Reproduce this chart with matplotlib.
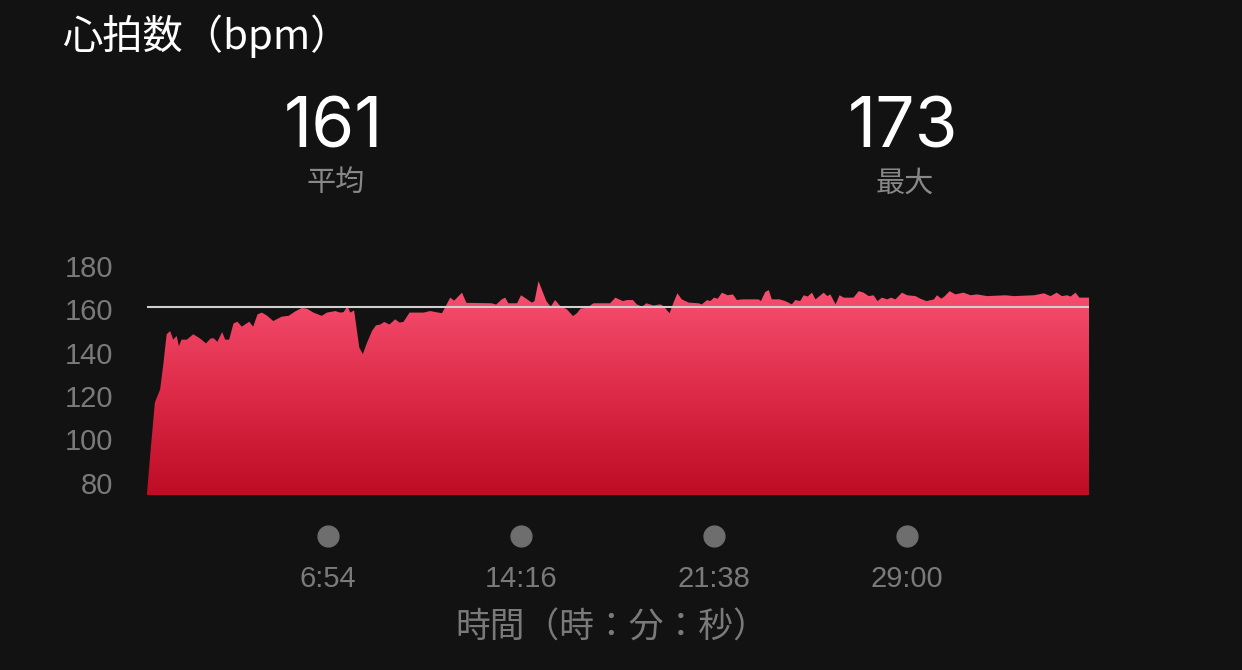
import numpy as np
import matplotlib.pyplot as plt
from matplotlib.patches import PathPatch
from matplotlib.colors import LinearSegmentedColormap

# heart rate trace (seconds, bpm)
time_s = [0, 7, 18, 30, 37, 45, 53, 60, 68, 73, 79, 91, 106, 121, 135, 146, 153,
          161, 172, 179, 188, 198, 207, 217, 234, 243, 253, 263, 274, 289, 308,
          324, 339, 354, 366, 381, 400, 412, 431, 442, 450, 459, 465, 474, 480,
          486, 494, 503, 515, 524, 534, 543, 555, 568, 578, 587, 601, 618, 633,
          648, 667, 675, 682, 694, 703, 721, 731, 789, 799, 812, 820, 827, 847,
          856, 868, 881, 887, 896, 914, 924, 934, 946, 961, 975, 984, 992, 1007,
          1022, 1060, 1072, 1089, 1099, 1112, 1121, 1133, 1143, 1159, 1175, 1182,
          1196, 1205, 1214, 1224, 1240, 1262, 1270, 1282, 1289, 1298, 1306, 1316,
          1329, 1341, 1350, 1362, 1400, 1405, 1415, 1423, 1430, 1448, 1461, 1476,
          1484, 1495, 1503, 1512, 1522, 1530, 1549, 1557, 1564, 1576, 1585, 1595,
          1617, 1629, 1640, 1652, 1663, 1672, 1682, 1694, 1703, 1713, 1728, 1740,
          1759, 1770, 1784, 1801, 1808, 1818, 1825, 1837, 1850, 1869, 1885, 1900,
          1923, 1965, 1984, 2030, 2053, 2068, 2082, 2094, 2106, 2114, 2125, 2134,
          2156]
hr_bpm = [75, 92, 117, 123, 134, 148.5, 150, 146, 147.7, 143, 146, 146, 148.5,
          146.6, 144.3, 146.6, 146.6, 145, 149.5, 146, 146, 153.5, 154.3, 152,
          154.3, 152, 157.7, 158.5, 157.2, 154.6, 156.6, 157, 159, 160.6, 160.3,
          158.5, 157, 158.5, 159.2, 158.5, 158.7, 161.5, 158.5, 159.5, 150.8,
          142.3, 139.3, 144.3, 150, 152.6, 153, 154.2, 153, 155.4, 153.9, 154.2,
          158.5, 158.5, 158.5, 159.2, 158.5, 158.2, 160.8, 165.4, 164, 167.7, 163,
          162.8, 162.2, 164.6, 165.4, 162.8, 162.8, 166.5, 164.9, 163.1, 163.8,
          173, 163.8, 161.2, 164.3, 161.5, 160, 156.9, 158.2, 160.3, 160.8, 162.8,
          162.8, 165.4, 163.8, 164.3, 164.3, 162.3, 161.2, 162.8, 161.8, 162.3,
          161.5, 158.2, 163.1, 167.4, 164.6, 163.1, 162.8, 162.3, 164.3, 163.8,
          165.4, 164.9, 167.7, 166.5, 166.9, 164.3, 164.6, 164.6, 163.8, 168,
          168.9, 164.6, 164.6, 163.8, 162.3, 164.3, 163.8, 166.5, 165.9, 167.7,
          164.6, 167.7, 166.1, 166.9, 162.3, 166.5, 165.4, 165.4, 168.4, 167.7,
          166.1, 166.5, 163.8, 165.4, 164.6, 165.4, 164.6, 167.7, 166.5, 166.1,
          164.9, 163.8, 164.6, 166.5, 164.9, 165.9, 168.4, 166.9, 167.7, 166.5,
          166.9, 166.1, 166.5, 166.1, 166.5, 167.4, 166.1, 167.7, 166.1, 166.5,
          165.9, 167.7, 165.4, 165.4]

avg_bpm = 161
max_bpm = 173
y_ticks = [80, 100, 120, 140, 160, 180]
x_ticks = [414, 856, 1298, 1740]
x_labels = ['6:54', '14:16', '21:38', '29:00']

BG = '#121212'
GREY = '#7a7a7a'
W, H = 1242, 670
y_lo, y_hi = 74.3, 182

plt.rcParams['font.family'] = ['Liberation Sans', 'Noto Sans CJK JP', 'DejaVu Sans']

fig = plt.figure(figsize=(W / 100, H / 100), dpi=100, facecolor=BG)

# axes box in pixels: left 147, right 1089, bottom 495, top ~261.6
ax_top = 495 - (y_hi - y_lo) * 43.33 / 20
ax = fig.add_axes([147 / W, (H - 495) / H, (1089 - 147) / W, (495 - ax_top) / H])
ax.set_facecolor(BG)
ax.set_xlim(0, time_s[-1])
ax.set_ylim(y_lo, y_hi)
for s in ax.spines.values():
    s.set_visible(False)

# gradient area fill, clipped by the heart rate polygon
poly = ax.fill_between(time_s, hr_bpm, y_lo, color='none', lw=0)
cmap = LinearSegmentedColormap.from_list('hr', ['#bd0c24', '#de2c4a', '#fa5273'])
grad = np.linspace(0, 1, 256).reshape(-1, 1)
img = ax.imshow(grad, cmap=cmap, origin='lower', aspect='auto',
                extent=[0, time_s[-1], y_lo, max(hr_bpm)], zorder=1)
clip = PathPatch(poly.get_paths()[0], transform=ax.transData, facecolor='none', edgecolor='none')
ax.add_patch(clip)
img.set_clip_path(clip)

ax.axhline(avg_bpm, color='#cfcfcf', lw=1.5, zorder=3)

ax.set_yticks(y_ticks)
ax.set_yticklabels([str(v) for v in y_ticks])
ax.tick_params(axis='y', length=0, pad=24.5, labelsize=21, labelcolor=GREY)

ax.set_xticks(x_ticks)
ax.set_xticklabels(x_labels)
ax.tick_params(axis='x', length=0, pad=50.5, labelsize=21, labelcolor=GREY)

# grey dots above the time labels
dot_y = (495 - 536) / (495 - ax_top)
ax.plot(x_ticks, [dot_y] * len(x_ticks), 'o', ms=15, color='#6e6e6e',
        transform=ax.get_xaxis_transform(), clip_on=False)


def px(x, y):
    return x / W, 1 - y / H


cjk = ['Noto Sans CJK JP', 'DejaVu Sans']
fig.text(*px(62, 36), '心拍数（bpm）', color='white', fontsize=29, va='center', ha='left',
         family=cjk)
fig.text(*px(334, 147), str(avg_bpm), color='white', fontsize=50, va='baseline', ha='center',
         family=['Inter', 'DejaVu Sans'])
fig.text(*px(336, 183), '平均', color='#888888', fontsize=21, va='center', ha='center',
         family=cjk)
fig.text(*px(903, 147), str(max_bpm), color='white', fontsize=50, va='baseline', ha='center',
         family=['Inter', 'DejaVu Sans'])
fig.text(*px(905, 184), '最大', color='#888888', fontsize=21, va='center', ha='center',
         family=cjk)
fig.text(*px(612, 628), '時間（時：分：秒）', color=GREY, fontsize=25, va='center', ha='center',
         family=cjk)

fig.savefig('out.png', dpi=100, facecolor=BG)
